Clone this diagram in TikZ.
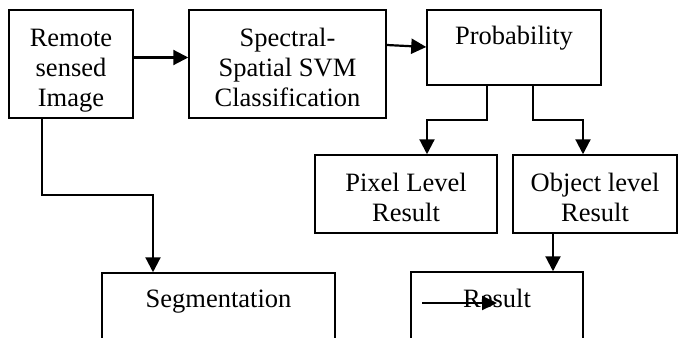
\documentclass[tikz,border=0pt]{standalone}
\usepackage{fontspec}
\setmainfont{Liberation Serif}
\usetikzlibrary{arrows.meta,calc}
\begin{document}
\begin{tikzpicture}[x=1pt,y=-1pt,
  box/.style={draw,line width=1.5pt,inner sep=0pt},
  lbl/.style={font=\fontsize{26.5}{30}\selectfont,align=center,anchor=base,inner sep=0pt},
  conn/.style={line width=2.2pt,-{Triangle[length=15pt,width=15pt]}}]
\useasboundingbox (0,0) rectangle (679,337);
% boxes
\node[box,minimum width=124pt,minimum height=108pt] (remote) at (71,64) {};
\node[box,minimum width=197pt,minimum height=108pt] (spectral) at (287.5,64) {};
\node[box,minimum width=174pt,minimum height=75pt] (prob) at (514,47.5) {};
\node[box,minimum width=182pt,minimum height=78pt] (pixel) at (406,194) {};
\node[box,minimum width=164pt,minimum height=78pt] (object) at (595,194) {};
\node[box,minimum width=233pt,minimum height=80pt] (seg) at (218.5,313) {};
\node[box,minimum width=172pt,minimum height=80pt] (result) at (497,312) {};
% texts
\node[lbl] (tremote) at (71,106) {Remote\\sensed\\Image};
\node[lbl] (tspectral) at (287.5,106) {Spectral-\\Spatial SVM\\Classification};
\node[lbl] (tprob) at (514,45) {Probability};
\node[lbl] (tpixel) at (406,221) {Pixel Level\\Result};
\node[lbl] (tobject) at (595,221) {Object level\\Result};
\node[lbl] (tseg) at (218.5,307) {Segmentation};
\node[lbl] (tresult) at (497,307) {Result};
% connectors
\draw[conn] (remote.east |- 0,57.5) -- (spectral.west |- 0,57.5);
\draw[conn] (spectral.east |- 0,45) -- (prob.west |- 0,47);
\draw[conn] (prob.south -| 487,0) |- (457,120) -| (pixel.north -| 427,0);
\draw[conn] (prob.south -| 533,0) |- (558,120) -| (object.north -| 583,0);
\draw[conn] (object.south -| 553,0) -- (result.north -| 553,0);
\draw[conn] (remote.south -| 42,0) |- (100,195) -| (seg.north -| 153,0);
\coordinate (sa) at (422,303);
\coordinate (sb) at (497,303);
\draw[line width=2pt,-{Triangle[length=15pt,width=14pt]}] (sa) -- (sb);
\end{tikzpicture}
\end{document}
